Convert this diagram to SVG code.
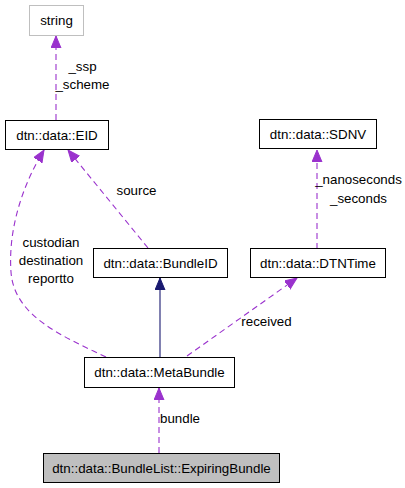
<svg xmlns="http://www.w3.org/2000/svg" width="405" height="488" viewBox="0 0 405 488">
<style>
text{font-family:"Liberation Sans",Arial,sans-serif;font-size:13.33px;fill:#000;text-anchor:middle}
.box{fill:#fff;stroke:#000;stroke-width:1}
.gbox{fill:#fff;stroke:#bfbfbf;stroke-width:1}
.cur{fill:#bfbfbf;stroke:#000;stroke-width:1}
.use{fill:none;stroke:#9a32cd;stroke-width:1.1;stroke-dasharray:6,4}
.inh{fill:none;stroke:#191970;stroke-width:1.1}
</style>
<defs>
<marker id="ap" markerUnits="userSpaceOnUse" markerWidth="13" markerHeight="11" refX="12" refY="5" orient="auto" viewBox="0 0 13 11">
<path d="M0,0 L12,5 L0,10 z" fill="#9a32cd" stroke="#9a32cd" stroke-width="1"/>
</marker>
<marker id="an" markerUnits="userSpaceOnUse" markerWidth="13" markerHeight="11" refX="12" refY="5" orient="auto" viewBox="0 0 13 11">
<path d="M0,0 L12,5 L0,10 z" fill="#191970" stroke="#191970" stroke-width="1"/>
</marker>
</defs>
<g id="connectors">
<path class="use" d="M56,120 L56,36" marker-end="url(#ap)"/>
<text x="82.5" y="71">_ssp</text>
<text x="82.5" y="89">_scheme</text>
<path class="use" d="M317,249 L317,150" marker-end="url(#ap)"/>
<text x="358.5" y="184">_nanoseconds</text>
<text x="358.5" y="203">_seconds</text>
<path class="use" d="M148,248 L68,150" marker-end="url(#ap)"/>
<text x="136.5" y="195">source</text>
<path class="use" d="M106,357 C62,336 14,316 11,272 C8,230 22,186 44,150" marker-end="url(#ap)"/>
<text x="51" y="247">custodian</text>
<text x="51" y="265">destination</text>
<text x="51" y="283">reportto</text>
<path class="inh" d="M160,357 L160,278" marker-end="url(#an)"/>
<path class="use" d="M187,356 L297,278" marker-end="url(#ap)"/>
<text x="266.5" y="326">received</text>
<path class="use" d="M159,453 L159,388" marker-end="url(#ap)"/>
<text x="180" y="423">bundle</text>
</g>
<g id="node-string">
<rect class="gbox" x="29.5" y="5.5" width="54" height="30"/>
<text x="56.5" y="25">string</text>
</g>
<g id="node-EID">
<rect class="box" x="5.5" y="120.5" width="103" height="29"/>
<text x="57" y="139.5">dtn::data::EID</text>
</g>
<g id="node-SDNV">
<rect class="box" x="259.5" y="119.5" width="117" height="29"/>
<text x="318" y="138.5">dtn::data::SDNV</text>
</g>
<g id="node-BundleID">
<rect class="box" x="93.5" y="248.5" width="134" height="29"/>
<text x="160.5" y="267.5">dtn::data::BundleID</text>
</g>
<g id="node-DTNTime">
<rect class="box" x="250.5" y="248.5" width="135" height="29"/>
<text x="318" y="267.5">dtn::data::DTNTime</text>
</g>
<g id="node-MetaBundle">
<rect class="box" x="84.5" y="357.5" width="150" height="30"/>
<text x="159.5" y="377">dtn::data::MetaBundle</text>
</g>
<g id="node-ExpiringBundle">
<rect class="cur" x="43.5" y="453.5" width="236" height="29"/>
<text x="161.5" y="472.5">dtn::data::BundleList::ExpiringBundle</text>
</g>
</svg>
